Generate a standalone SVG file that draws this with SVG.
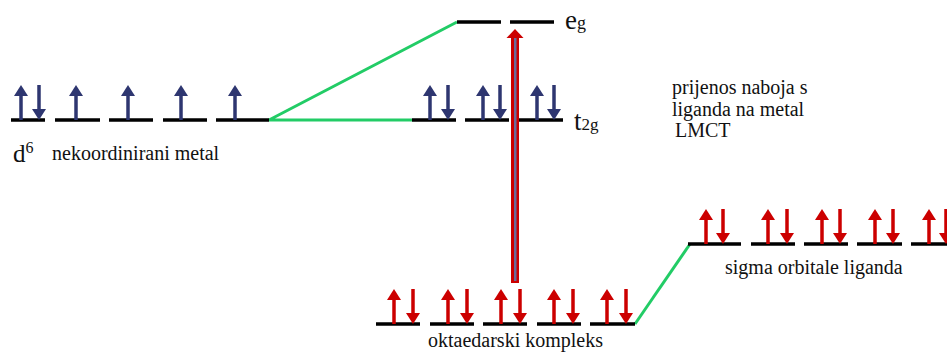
<svg xmlns="http://www.w3.org/2000/svg" width="947" height="352" viewBox="0 0 947 352" font-family="'Liberation Serif', serif">
<style>
text{font-family:'Liberation Serif',serif;fill:#111}
.lvl{stroke:#000;stroke-width:3.5;fill:none}
.grn{stroke:#22cc66;stroke-width:3;fill:none}
.nv{fill:#2e3670;stroke:#2e3670}
.rd{fill:#cc0000;stroke:#cc0000}
</style>
<defs>
<g id="up"><line x1="0" y1="0" x2="0" y2="-26" stroke-width="3.5"/><polygon points="-7,-24 0,-35 7,-24" stroke="none"/></g>
<g id="dn"><line x1="0" y1="-35" x2="0" y2="-9" stroke-width="3.5"/><polygon points="-7,-11 0,0 7,-11" stroke="none"/></g>
</defs>
<g id="connectors">
<polyline class="grn" points="457,22 269,120 412,120"/>
<line class="grn" x1="635" y1="324" x2="690" y2="244"/>
</g>
<g id="metal">
<path class="lvl" d="M11,120H45M55,120H100M109,120H153M163,120H207M216,120H269"/>
<g class="nv">
<use href="#up" x="21" y="120"/><use href="#dn" x="39" y="120"/>
<use href="#up" x="76" y="120"/>
<use href="#up" x="128" y="120"/>
<use href="#up" x="181" y="120"/>
<use href="#up" x="235" y="120"/>
</g>
<text x="13" y="162" font-size="25">d<tspan dy="-9" font-size="16">6</tspan></text>
<text x="52" y="160" font-size="20">nekoordinirani metal</text>
</g>
<g id="eg">
<path class="lvl" d="M457,22H501M510,22H554"/>
<text x="565" y="29" font-size="27">e<tspan font-size="18">g</tspan></text>
</g>
<g id="t2g">
<path class="lvl" d="M412,120H456M465,120H509M519,120H563"/>
<g class="nv">
<use href="#up" x="430" y="120"/><use href="#dn" x="448" y="120"/>
<use href="#up" x="483" y="120"/><use href="#dn" x="500" y="120"/>
<use href="#up" x="537" y="120"/><use href="#dn" x="554" y="120"/>
</g>
<text x="574" y="130" font-size="27">t<tspan font-size="17">2g</tspan></text>
</g>
<g id="complex">
<path class="lvl" d="M376,324H420M430,324H474M483,324H527M537,324H581M590,324H635"/>
<g class="rd">
<use href="#up" x="394" y="324"/><use href="#dn" x="413" y="324"/>
<use href="#up" x="448" y="324"/><use href="#dn" x="467" y="324"/>
<use href="#up" x="501" y="324"/><use href="#dn" x="520" y="324"/>
<use href="#up" x="554" y="324"/><use href="#dn" x="573" y="324"/>
<use href="#up" x="607" y="324"/><use href="#dn" x="626" y="324"/>
</g>
<text x="428" y="347" font-size="20">oktaedarski kompleks</text>
</g>
<g id="ligands">
<path class="lvl" d="M688,244H741M751,244H795M804,244H848M857,244H902M911,244H955"/>
<g class="rd">
<use href="#up" x="706" y="244"/><use href="#dn" x="723" y="244"/>
<use href="#up" x="768" y="244"/><use href="#dn" x="787" y="244"/>
<use href="#up" x="822" y="244"/><use href="#dn" x="840" y="244"/>
<use href="#up" x="875" y="244"/><use href="#dn" x="893" y="244"/>
<use href="#up" x="929" y="244"/><use href="#dn" x="946" y="244"/>
</g>
<text x="725" y="274" font-size="20">sigma orbitale liganda</text>
</g>
<g id="lmct">
<rect x="511" y="36" width="8" height="247" fill="#cc0000"/>
<rect x="514" y="38" width="2.5" height="243" fill="#6b6b9a"/>
<polygon points="506.5,38 515,29 523.5,38" fill="#cc0000"/>
</g>
<g id="label">
<text x="672" y="94" font-size="20">prijenos naboja s</text>
<text x="672" y="116" font-size="20">liganda na metal</text>
<text x="675" y="137" font-size="20">LMCT</text>
</g>
</svg>
